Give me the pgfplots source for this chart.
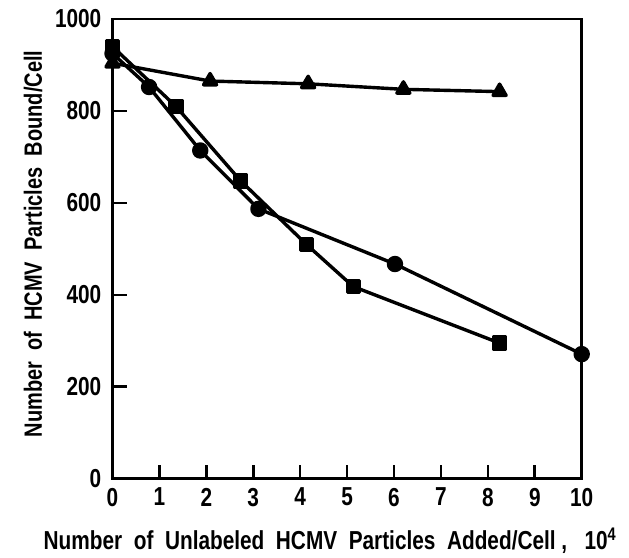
\documentclass[border=0pt]{standalone}
\usepackage{fontspec}
\setmainfont{Liberation Sans}[FakeStretch=0.8]
\usepackage{pgfplots}
\pgfplotsset{compat=1.18}

\begin{document}
\begin{tikzpicture}
\path[use as bounding box] (0pt,0pt) rectangle (629pt,557pt);
\begin{axis}[
  at={(112.5pt,78.3pt)}, anchor=south west,
  scale only axis,
  width=469.2pt, height=459.7pt,
  xmin=0, xmax=10, ymin=0, ymax=1000,
  xtick={0,1,...,10}, ytick={0,200,...,1000},
  tick pos=left, tick align=inside,
  major tick length=14pt,
  every tick/.style={line width=2.6pt, black},
  axis line style={line width=2.8pt},
  /pgf/number format/assume math mode=true,
  /pgf/number format/1000 sep={},
  tick label style={font=\fontsize{26}{30}\selectfont\bfseries, inner sep=0pt},
  xticklabel style={yshift=-9pt},
  yticklabel style={xshift=-11pt},
  label style={font=\fontsize{26}{30}\selectfont\bfseries},
  xlabel={Number\ \ of\ \ Unlabeled\ \ HCMV\ \ Particles\ \ Added/Cell\ ,\ \ \ 10\textsuperscript{4}},
  ylabel={Number\ \ of\ \ HCMV\ \ Particles\ \ Bound/Cell},
  xlabel style={at={(axis description cs:0.4636,-0.1355)}, anchor=center},
  ylabel style={at={(axis description cs:-0.1694,0.5106)}, anchor=center, rotate=0,
    font=\fontsize{25}{29}\selectfont\bfseries},
  clip=false,
  every axis plot/.append style={line width=3.4pt, black, line join=round},
]
% circles
\addplot[mark=*, mark size=6.5pt, mark options={solid, fill=black}] coordinates {
  (0,925) (0.78,852) (1.87,714) (3.11,587) (6.02,467) (10,271)
};
% squares
\addplot[mark=square*, mark size=6pt, mark options={solid, fill=black}] coordinates {
  (0,940) (1.35,810) (2.73,648) (4.14,509) (5.13,418) (8.25,295)
};
% triangles
\addplot[mark=triangle*, mark size=7.5pt, mark options={solid, fill=black}] coordinates {
  (0,904) (2.08,865) (4.17,859) (6.2,847) (8.25,842)
};
\end{axis}
\end{tikzpicture}
\end{document}
